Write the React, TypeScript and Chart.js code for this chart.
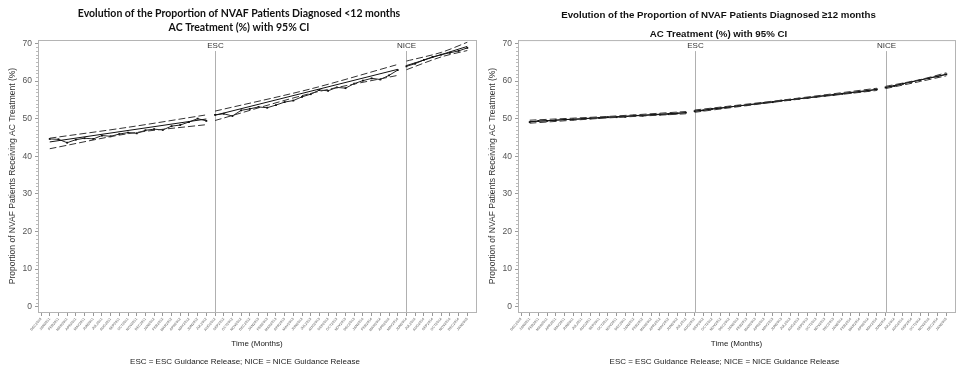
import React, { useEffect, useRef } from "react";
import { Chart, registerables } from "chart.js";
Chart.register(...registerables);

// ---------- tick labels (months) ----------
const monthLabels = [
  "DEC2010", "JAN2011", "FEB2011", "MAR2011", "APR2011", "MAY2011", "JUN2011", "JUL2011", "AUG2011", "SEP2011",
  "OCT2011", "NOV2011", "DEC2011", "JAN2012", "FEB2012", "MAR2012", "APR2012", "MAY2012", "JUN2012", "JUL2012",
  "AUG2012", "SEP2012", "OCT2012", "NOV2012", "DEC2012", "JAN2013", "FEB2013", "MAR2013", "APR2013", "MAY2013",
  "JUN2013", "JUL2013", "AUG2013", "SEP2013", "OCT2013", "NOV2013", "DEC2013", "JAN2014", "FEB2014", "MAR2014",
  "APR2014", "MAY2014", "JUN2014", "JUL2014", "AUG2014", "SEP2014", "OCT2014", "NOV2014", "DEC2014", "JAN2015",
];
const yTicks = [0, 10, 20, 30, 40, 50, 60, 70];

// segment start indices (month positions)
const PRE_START = 1;
const ESC_INDEX = 20;
const NICE_INDEX = 42;
const LAST_INDEX = 49;
const preKnots = [1, 10, 19];
const escKnots = [20, 31, 41];
const niceKnots = [42, 46, 49];

// ---------- left chart (<12 months) ----------
const leftObsPre = [44.6, 44.5, 43.6, 44.4, 44.8, 44.6, 45.5, 45.3, 45.9, 46.3, 46.1, 46.9, 47.2, 47.0, 48.0, 48.3, 49.1, 50.0, 49.4];
const leftObsEsc = [51.0, 51.3, 50.7, 52.2, 52.6, 53.1, 52.9, 53.6, 54.4, 54.8, 55.8, 56.5, 57.6, 57.4, 58.3, 58.1, 59.3, 60.1, 60.7, 60.4, 61.5, 62.9];
const leftObsNice = [63.9, 64.6, 65.6, 66.4, 67.0, 67.5, 68.0, 68.8];
const leftFitPre = [43.8, 49.9];
const leftFitEsc = [50.9, 63.1];
const leftFitNice = [64.1, 69.2];
const leftUpperPre = [44.8, 47.7, 51.0];
const leftLowerPre = [42.0, 46.0, 48.4];
const leftUpperEsc = [52.0, 57.9, 64.4];
const leftLowerEsc = [49.5, 56.7, 61.5];
const leftUpperNice = [65.3, 67.6, 70.3];
const leftLowerNice = [63.0, 66.4, 68.1];

// ---------- right chart (>=12 months) ----------
const rightObsPre = [49.1, 49.4, 49.4, 49.6, 49.8, 49.8, 49.9, 50.1, 50.2, 50.4, 50.4, 50.5, 50.8, 50.8, 51.0, 51.1, 51.2, 51.4, 51.6];
const rightObsEsc = [52.0, 52.2, 52.6, 52.8, 53.1, 53.4, 53.6, 53.9, 54.2, 54.4, 54.8, 55.0, 55.3, 55.5, 55.8, 56.1, 56.3, 56.6, 56.9, 57.1, 57.4, 57.8];
const rightObsNice = [58.3, 58.7, 59.3, 59.8, 60.3, 60.8, 61.2, 61.8];
const rightFitPre = [49.2, 51.6];
const rightFitEsc = [52.0, 57.8];
const rightFitNice = [58.3, 61.8];
const rightUpperPre = [49.6, 50.6, 51.9];
const rightLowerPre = [48.8, 50.2, 51.3];
const rightUpperEsc = [52.3, 55.2, 58.1];
const rightLowerEsc = [51.7, 54.9, 57.5];
const rightUpperNice = [58.6, 60.4, 62.2];
const rightLowerNice = [58.0, 59.9, 61.4];

const TITLE_LINE2 = "AC Treatment (%) with 95% CI";
const Y_TITLE = "Proportion of NVAF Patients Receiving AC Treatment (%)";
const X_TITLE = "Time (Months)";
const FOOTNOTE = "ESC = ESC Guidance Release; NICE = NICE Guidance Release";
const SMALL_FONT = "'Liberation Sans', Arial, sans-serif";

const seg = (vals: number[], start: number) => vals.map((y, i) => ({ x: start + i, y }));
const at = (vals: number[], xs: number[]) => vals.map((y, i) => ({ x: xs[i], y }));

function observed(vals: number[], start: number) {
  return {
    data: seg(vals, start),
    borderColor: "#222",
    backgroundColor: "#111",
    borderWidth: 1,
    pointRadius: 1.3,
    pointStyle: "rect",
    pointBorderWidth: 0,
  };
}
function fitted(vals: number[], start: number, end: number) {
  return { data: at(vals, [start, end]), borderColor: "#111", borderWidth: 1, pointRadius: 0 };
}
function ci(vals: number[], xs: number[]) {
  return { data: at(vals, xs), borderColor: "#333", borderWidth: 1, borderDash: [7, 3], pointRadius: 0, tension: 0.3 };
}

const decorPlugin = {
  id: "decor",
  beforeDatasetsDraw(chart: any) {
    const { ctx, chartArea, scales } = chart;
    ctx.save();
    ctx.strokeStyle = "#b4b4b4";
    ctx.lineWidth = 1;
    ctx.strokeRect(chartArea.left + 0.5, chartArea.top + 0.5, chartArea.right - chartArea.left, chartArea.bottom - chartArea.top);
    // minor ticks on y
    ctx.strokeStyle = "#bbb";
    for (let v = 0; v <= 70; v += 1) {
      if (v % 10 === 0) continue;
      const y = Math.round(scales.y.getPixelForValue(v)) + 0.5;
      ctx.beginPath();
      ctx.moveTo(chartArea.left - 2, y);
      ctx.lineTo(chartArea.left, y);
      ctx.stroke();
    }
    const refs = [
      { idx: ESC_INDEX, label: "ESC" },
      { idx: NICE_INDEX, label: "NICE" },
    ];
    ctx.font = `8px ${SMALL_FONT}`;
    ctx.textAlign = "center";
    ctx.textBaseline = "middle";
    for (const r of refs) {
      const x = Math.round(scales.x.getPixelForValue(r.idx)) + 0.5;
      ctx.strokeStyle = "#b0b0b0";
      ctx.beginPath();
      ctx.moveTo(x, chartArea.top + 11);
      ctx.lineTo(x, chartArea.bottom);
      ctx.stroke();
      ctx.fillStyle = "#333";
      ctx.fillText(r.label, x, chartArea.top + 5.5);
    }
    ctx.restore();
  },
  afterDraw(chart: any) {
    const { ctx, width } = chart;
    ctx.save();
    ctx.font = `8px ${SMALL_FONT}`;
    ctx.fillStyle = "#222";
    ctx.textAlign = "center";
    ctx.textBaseline = "middle";
    ctx.fillText(FOOTNOTE, width / 2 + 5, 362);
    ctx.restore();
  },
};

type Panel = {
  width: number;
  title: string;
  titleFont: any;
  titlePad: any;
  subFont: any;
  subPad: any;
  datasets: any[];
};

function makeDatasets(
  obs: number[][], fit: number[][], up: number[][], lo: number[][]
) {
  const starts = [PRE_START, ESC_INDEX, NICE_INDEX];
  const ends = [ESC_INDEX - 1, NICE_INDEX - 1, LAST_INDEX];
  const kn = [preKnots, escKnots, niceKnots];
  const ds: any[] = [];
  for (let s = 0; s < 3; s++) {
    ds.push(ci(up[s], kn[s]));
    ds.push(ci(lo[s], kn[s]));
    ds.push(fitted(fit[s], starts[s], ends[s]));
    ds.push(observed(obs[s], starts[s]));
  }
  return ds;
}

const leftPanel: Panel = {
  width: 480,
  title: "Evolution of the Proportion of NVAF Patients Diagnosed <12 months",
  titleFont: { family: "Lato, 'Open Sans', sans-serif", size: 10.5, weight: "bold", lineHeight: 1.2 },
  titlePad: { top: 7.7, bottom: 0 },
  subFont: { family: "Lato, 'Open Sans', sans-serif", size: 10.5, weight: "bold", lineHeight: 1.2 },
  subPad: { top: 1.4, bottom: 5.7 },
  datasets: makeDatasets(
    [leftObsPre, leftObsEsc, leftObsNice],
    [leftFitPre, leftFitEsc, leftFitNice],
    [leftUpperPre, leftUpperEsc, leftUpperNice],
    [leftLowerPre, leftLowerEsc, leftLowerNice]
  ),
};

const rightPanel: Panel = {
  width: 479,
  title: "Evolution of the Proportion of NVAF Patients Diagnosed \u226512 months",
  titleFont: { family: SMALL_FONT, size: 9.7, weight: "bold", lineHeight: 1.2 },
  titlePad: { top: 9.2, bottom: 0 },
  subFont: { family: SMALL_FONT, size: 9.7, weight: "bold", lineHeight: 1.2 },
  subPad: { top: 7.4, bottom: 0.2 },
  datasets: makeDatasets(
    [rightObsPre, rightObsEsc, rightObsNice],
    [rightFitPre, rightFitEsc, rightFitNice],
    [rightUpperPre, rightUpperEsc, rightUpperNice],
    [rightLowerPre, rightLowerEsc, rightLowerNice]
  ),
};

const PLOT_LEFT = 38;
const PLOT_BOTTOM = 312;
const CANVAS_H = 372;
const FOOT_SPACE = 20;

function buildConfig(p: Panel): any {
  return {
    type: "line",
    data: { datasets: p.datasets },
    plugins: [decorPlugin],
    options: {
      animation: false,
      responsive: false,
      layout: { padding: { left: 0, right: 2, top: 0, bottom: FOOT_SPACE } },
      plugins: {
        legend: { display: false },
        tooltip: { enabled: false },
        title: { display: true, text: p.title, color: "#111", font: p.titleFont, padding: p.titlePad },
        subtitle: { display: true, text: TITLE_LINE2, color: "#111", font: p.subFont, padding: p.subPad },
      },
      scales: {
        x: {
          type: "linear",
          min: -0.35,
          max: 50,
          afterBuildTicks: (s: any) => {
            s.ticks = monthLabels.map((_, i) => ({ value: i }));
          },
          afterFit: (s: any) => {
            s.height = CANVAS_H - PLOT_BOTTOM - FOOT_SPACE;
          },
          ticks: {
            autoSkip: false,
            minRotation: 50,
            maxRotation: 50,
            padding: 1,
            color: "#8a8a8a",
            font: { size: 3.6, family: SMALL_FONT, weight: "bold" },
            callback: (v: any) => monthLabels[v] ?? "",
          },
          grid: { drawOnChartArea: false, drawTicks: true, tickLength: 4, color: "#999" },
          border: { color: "#999" },
          title: { display: true, text: X_TITLE, color: "#222", font: { size: 8, family: SMALL_FONT }, padding: 3 },
        },
        y: {
          min: -1.4,
          max: 70.9,
          afterBuildTicks: (s: any) => {
            s.ticks = yTicks.map((v) => ({ value: v }));
          },
          afterFit: (s: any) => {
            s.width = PLOT_LEFT;
          },
          ticks: { color: "#555", font: { size: 8.5, family: SMALL_FONT }, padding: 3 },
          grid: { drawOnChartArea: false, drawTicks: true, tickLength: 3, color: "#999" },
          border: { color: "#999" },
          title: { display: true, text: Y_TITLE, color: "#333", font: { size: 8.5, family: SMALL_FONT }, padding: 8 },
        },
      },
    },
  };
}

function ChartPanel({ panel }: { panel: Panel }) {
  const ref = useRef<HTMLCanvasElement>(null);
  useEffect(() => {
    const chart = new Chart(ref.current!, buildConfig(panel));
    return () => chart.destroy();
  }, [panel]);
  return <canvas ref={ref} width={panel.width} height={CANVAS_H} style={{ display: "block" }} />;
}

export default function App() {
  return (
    <div style={{ position: "absolute", left: 0, top: 0, width: 959, height: CANVAS_H, display: "flex", background: "#fff" }}>
      <ChartPanel panel={leftPanel} />
      <ChartPanel panel={rightPanel} />
    </div>
  );
}
